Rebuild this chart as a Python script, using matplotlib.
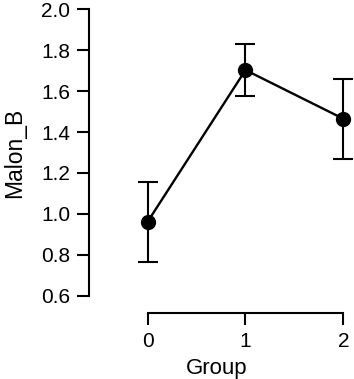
import matplotlib
matplotlib.use("Agg")
import matplotlib.pyplot as plt

groups = [0, 1, 2]
means = [0.962, 1.703, 1.465]
errors = [0.196, 0.125, 0.196]
yticks = [0.6, 0.8, 1.0, 1.2, 1.4, 1.6, 1.8, 2.0]
ytick_labels = ["0.6", "0.8", "1.0", "1.2", "1.4", "1.6", "1.8", "2.0"]

plt.rcParams['font.family'] = ['Liberation Sans', 'DejaVu Sans']

fig = plt.figure(figsize=(3.54, 3.79), dpi=100)
ax = fig.add_axes([89.5/354, 83.3/379, 253.8/354, 286.4/379])

ax.errorbar(groups, means, yerr=errors, color='black', lw=1.7, marker='o',
            markersize=10, capsize=7.5, capthick=1.5, elinewidth=1.5, clip_on=False, zorder=3)

ax.set_xlim(-0.595, 2.0)
ax.set_ylim(0.6, 2.0)
ax.set_yticks(yticks)
ax.set_yticklabels(ytick_labels)
ax.set_xticks(groups)
ax.set_xticklabels([str(g) for g in groups])

for s in ['top', 'right']:
    ax.spines[s].set_visible(False)
ax.spines['left'].set_bounds(0.6, 2.0)
ax.spines['bottom'].set_bounds(0, 2)
ax.spines['bottom'].set_position(('outward', 12.2))
ax.spines['left'].set_linewidth(1.5)
ax.spines['bottom'].set_linewidth(1.5)

ax.tick_params(axis='both', direction='out', length=8.3, width=1.5, labelsize=15, pad=5.5)
ax.set_xlabel("Group", fontsize=16, labelpad=5)
ax.set_ylabel("Malon_B", fontsize=16.5, labelpad=11)

fig.savefig("out.png", dpi=100)
